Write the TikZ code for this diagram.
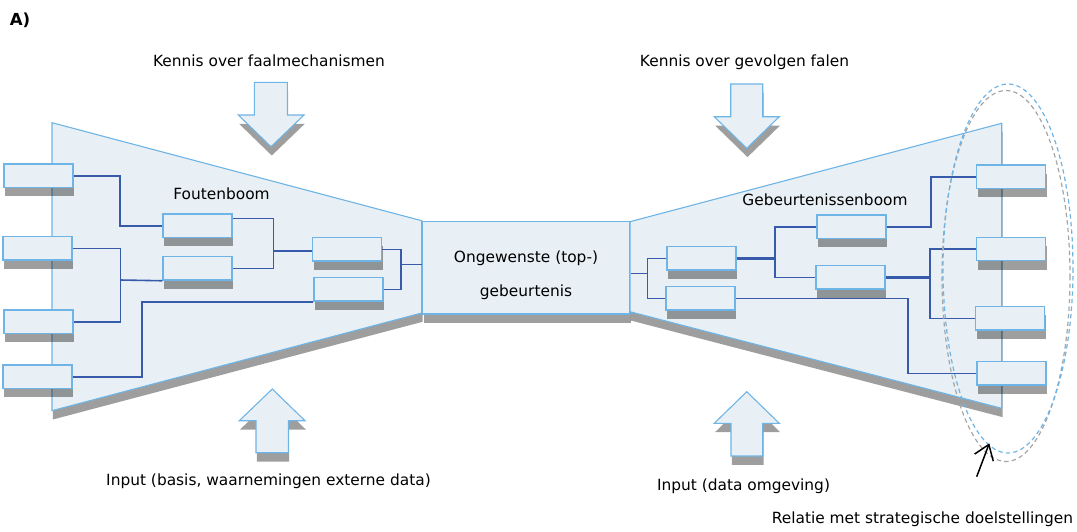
\documentclass[tikz,border=0pt]{standalone}
\usepackage{fontspec}
\setmainfont{DejaVu Sans}
\usepackage{tikz}
\usetikzlibrary{positioning}
\usetikzlibrary{shapes,arrows.meta,shadows}

\definecolor{vulling}{RGB}{232,240,245}
\definecolor{rand}{RGB}{110,180,230}
\definecolor{lijnblauw}{RGB}{55,90,170}
\definecolor{ellgrijs}{RGB}{165,165,165}

\tikzset{
	schaduw/.style={drop shadow={shadow xshift=0.4pt,shadow yshift=-4.4pt,fill=black,opacity=0.38}},
	vlak/.style={draw=rand,fill=vulling,line width=0.55pt,schaduw},
	blok/.style={vlak,line width=0.75pt,minimum width=34.5pt,minimum height=11.7pt,inner sep=0pt},
	lijn/.style={draw=lijnblauw,line width=0.8pt},
	lijn dik/.style={lijn,line width=1.2pt},
	tekst/.style={font=\fontsize{7.7}{9.2}\selectfont,inner sep=0pt}
}

\begin{document}
\begin{tikzpicture}[x=0.5pt,y=-0.5pt]
		\useasboundingbox (0,0) rectangle (1077,531);
		\node[tekst,font=\fontsize{8.3}{10}\selectfont\bfseries] (titel) at (20,20) {A)};

		% vlinderdas
		\draw[vlak] (52,122.7) -- (421.7,220.7) -- (421.7,313) -- (52,410.7) -- cycle;
		\node[vlak,minimum width=103.65pt,minimum height=46.15pt,inner sep=0pt] (kern) at (526.35,267.85) {};
		\draw[vlak] (630,221.7) -- (1001.7,123.3) -- (1001.7,408.3) -- (630,311.7) -- cycle;
		\node[tekst,align=center] (kerntekst) at (526,275) {Ongewenste (top-)\\[8pt]gebeurtenis};

		% blokpijlen
		\draw[vlak] (254.3,82.3) -- (287.3,82.3) -- (287.3,115) -- (304,115) -- (271,146.7) -- (238.3,115) -- (254.3,115) -- cycle;
		\draw[vlak] (730.7,84) -- (762.7,84) -- (762.7,116.7) -- (779.3,116.7) -- (746.7,148.3) -- (714.3,116.7) -- (730.7,116.7) -- cycle;
		\draw[vlak] (256,452.7) -- (288.3,452.7) -- (288.3,420.7) -- (305,420.7) -- (272.3,389) -- (239.3,420.7) -- (256,420.7) -- cycle;
		\draw[vlak] (731,456) -- (762.7,456) -- (762.7,423.3) -- (779.3,423.3) -- (746.7,391.7) -- (714.3,423.3) -- (731,423.3) -- cycle;

		\node[tekst] (kennis1) at (269,61) {Kennis over faalmechanismen};
		\node[tekst] (kennis2) at (744.5,62) {Kennis over gevolgen falen};
		\node[tekst] (input1) at (268.5,481) {Input (basis, waarnemingen externe data)};
		\node[tekst] (input2) at (743.5,486) {Input (data omgeving)};
		\node[tekst] (fb) at (221.5,194) {Foutenboom};
		\node[tekst] (gb) at (825,200) {Gebeurtenissenboom};

		% foutenboom
		\node[blok] (L1) at (38.7,175.7) {};
		\node[blok] (L2) at (37.5,248.3) {};
		\node[blok] (L3) at (38.5,321.7) {};
		\node[blok] (L4) at (37.3,376.7) {};
		\node[blok] (M1) at (197.5,225.7) {};
		\node[blok] (M2) at (197.5,268.3) {};
		\node[blok] (R1) at (347.2,249.3) {};
		\node[blok] (R2) at (348.3,289.3) {};

		\coordinate (v1) at (120.3,280);
		\coordinate (v2) at (273.3,251);
		\coordinate (v3) at (401,264.3);
		\draw[lijn] (L1.east) -- ++(46,0) |- (M1.west);
		\draw[lijn] (L2.east) -| (v1) |- (L3.east);
		\draw[lijn] (v1) -- (M2.south west);
		\draw[lijn] (L4.east) -- ++(69.7,0) |- (R2.south west);
		\draw[lijn] ([yshift=3.7pt]M1.east) -| (v2) |- (M2.east);
		\draw[lijn dik] (v2) -- (v2 -| R1.west);
		\draw[lijn] (R1.east) -| (v3) |- (R2.east);
		\draw[lijn] (v3) -- (v3 -| kern.west);

		% gebeurtenissenboom
		\node[blok] (A1) at (701.3,258.3) {};
		\node[blok] (A2) at (700.3,298.3) {};
		\node[blok] (B1) at (851.7,226.7) {};
		\node[blok] (B2) at (850.7,277.3) {};
		\node[blok] (C1) at (1011.2,176.7) {};
		\node[blok] (C2) at (1011.2,249) {};
		\node[blok] (C3) at (1010.2,318.3) {};
		\node[blok] (C4) at (1011.3,373.3) {};

		\coordinate (w1) at (647.3,273.3);
		\coordinate (w2) at (775,258.3);
		\coordinate (w3) at (930,280.7);
		\draw[lijn] (kern.east |- w1) -- (w1);
		\draw[lijn] (A1.west) -| (w1) |- (A2.west);
		\draw[lijn dik] (A1.east) -| (w2);
		\draw[lijn] (B1.west) -| (w2) |- (B2.west);
		\draw[lijn] (B1.east) -- ++(44,0) |- (C1.west);
		\draw[lijn dik] (B2.east) -| (w3);
		\draw[lijn] (C2.west) -| (w3) |- (C3.west);
		\draw[lijn] (A2.east) -- ++(172.7,0) |- (C4.west);

		% relatie
		\draw[ellgrijs,line width=0.6pt,dash pattern=on 2.2pt off 1.6pt] (1006,276) ellipse [x radius=64,y radius=185.5];
		\draw[rand,line width=0.6pt,dash pattern=on 2.2pt off 1.6pt] (1008,268.5) ellipse [x radius=65,y radius=184.5];
		\coordinate (pijlvoet) at (976.7,476.7);
		\coordinate (pijlpunt) at (989.3,443.3);
		\draw[line width=0.75pt,-{Straight Barb[length=7pt,width=10pt]}] (pijlvoet) -- (pijlpunt);
		\node[tekst] (relatie) at (922.5,519) {Relatie met strategische doelstellingen};
	\end{tikzpicture}
\end{document}
